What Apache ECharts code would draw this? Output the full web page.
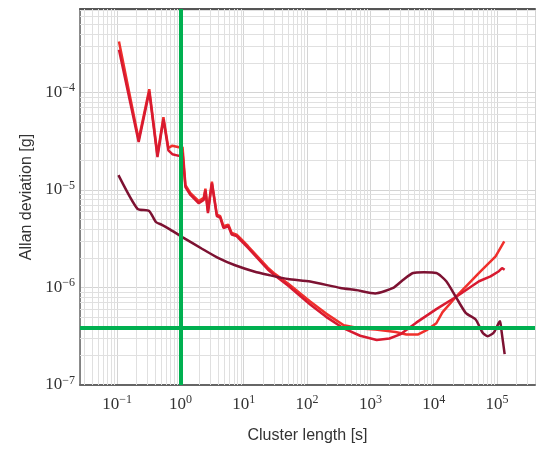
<!DOCTYPE html>
<html>
<head>
<meta charset="utf-8">
<script src="https://cdn.jsdelivr.net/npm/echarts@6/dist/echarts.min.js"></script>
<style>
  html, body { margin: 0; padding: 0; background: #fff; }
  #main { width: 538px; height: 449px; }
</style>
</head>
<body>
<div id="main"></div>
<script>
// Allan deviation curves
const tauA = [0.107, 0.219, 0.322, 0.434, 0.539, 0.645, 0.745, 0.948, 1.08, 1.2, 1.44, 1.95, 2.33, 2.48, 2.72, 3.14, 3.76, 4.25, 4.78, 5.72, 6.45, 7.72, 8.72, 11.7, 24, 31, 50, 112, 200, 380, 700, 1200, 2500, 3700, 5700, 8000, 11000, 13800, 22400, 52000, 95000, 130000];
const adevA = [3.34e-4, 3.3e-5, 1.08e-4, 2.3e-5, 5.6e-5, 2.7e-5, 2.85e-5, 2.75e-5, 2.75e-5, 1.12e-5, 9.3e-6, 7.7e-6, 8.3e-6, 1.03e-5, 6.1e-6, 1.22e-5, 5.6e-6, 5.4e-6, 4.25e-6, 4.4e-6, 3.62e-6, 3.48e-6, 3.22e-6, 2.65e-6, 1.6e-6, 1.38e-6, 1.1e-6, 7.2e-7, 5.4e-7, 4.1e-7, 3.8e-7, 3.7e-7, 3.5e-7, 3.3e-7, 3.3e-7, 3.7e-7, 4.3e-7, 5.6e-7, 8.0e-7, 1.41e-6, 2.09e-6, 2.97e-6];

const tauB = [0.107, 0.219, 0.322, 0.434, 0.539, 0.645, 0.745, 0.948, 1.08, 1.2, 1.44, 1.95, 2.33, 2.48, 2.72, 3.14, 3.76, 4.25, 4.78, 5.72, 6.45, 7.72, 8.72, 11.7, 24, 31, 50, 112, 200, 380, 690, 1260, 2000, 2950, 5300, 11000, 22400, 52000, 79000, 107000, 120000, 132000];
const adevB = [2.75e-4, 3.1e-5, 1.02e-4, 2.18e-5, 5.3e-5, 2.55e-5, 2.33e-5, 2.24e-5, 2.4e-5, 1.07e-5, 8.9e-6, 7.3e-6, 7.9e-6, 9.9e-6, 5.8e-6, 1.17e-5, 5.4e-6, 5.2e-6, 4.08e-6, 4.25e-6, 3.5e-6, 3.36e-6, 3.1e-6, 2.55e-6, 1.53e-6, 1.33e-6, 1.05e-6, 6.7e-7, 5.0e-7, 3.8e-7, 3.2e-7, 2.9e-7, 3.0e-7, 3.3e-7, 4.36e-7, 6.0e-7, 8.0e-7, 1.16e-6, 1.3e-6, 1.47e-6, 1.58e-6, 1.52e-6];

const tauC = [0.105, 0.21, 0.32, 0.41, 0.51, 0.66, 1.07, 2.19, 4.0, 7.3, 15, 24, 50, 112, 337, 600, 1190, 2290, 3300, 4730, 7000, 11000, 15800, 22400, 32000, 46000, 59000, 71000, 89000, 107000, 112000, 117000, 132000];
const adevC = [1.42e-5, 6.4e-6, 6.1e-6, 4.7e-6, 4.4e-6, 4.0e-6, 3.29e-6, 2.5e-6, 2.0e-6, 1.69e-6, 1.45e-6, 1.35e-6, 1.22e-6, 1.15e-6, 9.9e-7, 9.4e-7, 8.7e-7, 9.9e-7, 1.2e-6, 1.41e-6, 1.43e-6, 1.41e-6, 1.16e-6, 8.0e-7, 5.5e-7, 4.7e-7, 3.46e-7, 3.16e-7, 3.46e-7, 4.36e-7, 4.5e-7, 3.7e-7, 2.07e-7];

// green reference lines
const refTau = 1;
const refAdev = 3.9e-7;

const xMin = 0.02594, xMax = 398000;
const yMin = 1e-7, yMax = 7.19e-4;

function zip(xs, ys) { return xs.map((x, i) => [x, ys[i]]); }

function isDecade(v) {
    const e = Math.log10(v);
    return Math.abs(e - Math.round(e)) < 1e-6;
}
function powLabel(v) {
    if (!isDecade(v)) return '';
    const e = Math.round(Math.log10(v));
    return '{b|10}{s|' + String(e).replace('-', '\u2212') + '}';
}

function hLine(v) { return [{ coord: [xMin, v] }, { coord: [xMax, v] }]; }
function vLine(v) { return [{ coord: [v, yMin] }, { coord: [v, yMax] }]; }

// minor grid (2..9 of each decade)
const minorLines = [];
for (let d = -2; d <= 5; d++) for (let k = 2; k <= 9; k++) {
    const v = k * Math.pow(10, d);
    if (v > xMin && v < xMax) minorLines.push(vLine(v));
}
for (let d = -7; d <= -4; d++) for (let k = 2; k <= 9; k++) {
    const v = k * Math.pow(10, d);
    if (v > yMin && v < yMax) minorLines.push(hLine(v));
}

const labelRich = {
    b: { fontFamily: 'Liberation Serif', fontSize: 17, color: '#333' },
    s: { fontFamily: 'Liberation Serif', fontSize: 12, color: '#333', verticalAlign: 'top', padding: [0, 0, 9, 0] }
};

var myChart = echarts.init(document.getElementById('main'));
myChart.setOption({
    animation: false,
    grid: { left: 80, top: 9, right: -2, bottom: 62 },
    xAxis: [{
        type: 'log',
        logBase: 10,
        min: xMin,
        max: xMax,
        name: 'Cluster length [s]',
        nameLocation: 'middle',
        nameGap: 43,
        nameTextStyle: { fontFamily: 'Liberation Sans', fontSize: 16, color: '#333' },
        axisLine: { show: true, lineStyle: { color: '#666', width: 2 } },
        axisTick: { show: false },
        axisLabel: { formatter: powLabel, margin: 9, rich: labelRich },
        splitLine: { show: true, lineStyle: { color: '#d4d4d4', width: 1 } }
    }, {
        type: 'log',
        position: 'top',
        min: xMin,
        max: xMax,
        axisLine: { show: true, lineStyle: { color: '#555', width: 2 } },
        axisTick: { show: false },
        axisLabel: { show: false },
        splitLine: { show: false }
    }],
    yAxis: {
        type: 'log',
        logBase: 10,
        min: yMin,
        max: yMax,
        name: 'Allan deviation [g]',
        nameLocation: 'middle',
        nameGap: 45,
        nameTextStyle: { fontFamily: 'Liberation Sans', fontSize: 16, color: '#333' },
        axisLine: { show: true, lineStyle: { color: '#666', width: 1.5 } },
        axisTick: { show: false },
        axisLabel: { formatter: powLabel, margin: 5, rich: labelRich },
        splitLine: { show: true, lineStyle: { color: '#d4d4d4', width: 1 } }
    },
    series: [
        {
            type: 'line',
            data: [],
            silent: true,
            z: 1,
            markLine: {
                z: 1,
                silent: true,
                symbol: 'none',
                label: { show: false },
                lineStyle: { color: '#e0e0e0', width: 1, type: 'solid' },
                data: minorLines
            }
        },
        {
            name: 'acc1',
            type: 'line',
            z: 3,
            data: zip(tauA, adevA),
            showSymbol: false,
            lineStyle: { color: '#f0302c', width: 2.5 },
            itemStyle: { color: '#f0302c' }
        },
        {
            name: 'acc2',
            type: 'line',
            z: 3,
            data: zip(tauB, adevB),
            showSymbol: false,
            lineStyle: { color: '#d81a30', width: 2.5 },
            itemStyle: { color: '#d81a30' }
        },
        {
            name: 'acc3',
            type: 'line',
            z: 3,
            data: zip(tauC, adevC),
            showSymbol: false,
            smooth: 0.2,
            lineStyle: { color: '#7d1232', width: 2.5 },
            itemStyle: { color: '#7d1232' }
        },
        {
            type: 'line',
            data: [],
            silent: true,
            z: 5,
            markLine: {
                z: 6,
                silent: true,
                symbol: 'none',
                label: { show: false },
                lineStyle: { color: '#00b050', width: 4, type: 'solid' },
                data: [vLine(refTau), hLine(refAdev)]
            }
        }
    ]
});
</script>
</body>
</html>
